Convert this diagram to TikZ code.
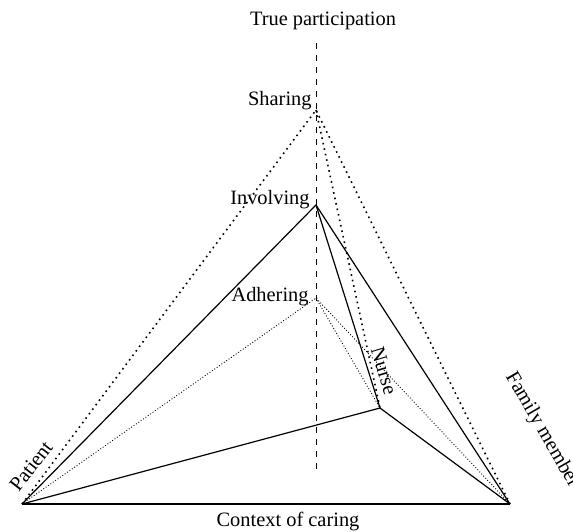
\documentclass[tikz,border=0pt]{standalone}
\usepackage{fontspec}
\setmainfont{Liberation Serif}
\usetikzlibrary{positioning}
\tikzstyle{every picture}+=[remember picture]

\begin{document}
\begin{tikzpicture} [
            x=0.5pt, y=-0.5pt, every node/.style={font=\fontsize{10.2}{12}\selectfont, inner sep=1pt},
            solidline/.style={line width=0.6pt},
            shareline/.style={line width=0.8pt, dotted},
            adhereline/.style={line width=0.45pt, densely dotted}
        ]
        \useasboundingbox (0,0) rectangle (573,531);
        % corners and levels
        \coordinate (patient) at (22,504);
        \coordinate (family) at (510,504);
        \coordinate (nurse) at (380,408);
        \coordinate (sharing) at (316,110);
        \coordinate (involving) at (316,205);
        \coordinate (adhering) at (316,298);
        \coordinate (axistop) at (316,43);
        \coordinate (axisbottom) at (316,470);
        \draw[dashed, line width=0.5pt] (axistop) -- (axisbottom);
        % sharing
        \draw[shareline] (patient) -- (sharing) -- (family);
        \draw[shareline] (sharing) -- (nurse);
        % involving
        \draw[solidline] (patient) -- (involving) -- (family);
        \draw[solidline] (involving) -- (nurse);
        \draw[solidline] (patient) -- (nurse) -- (family);
        \draw[solidline] (patient) -- (family);
        % adhering
        \draw[adhereline] (patient) -- (adhering) -- (family);
        \draw[adhereline] (adhering) -- (nurse);
        % labels
        \node (toplabel) at (323,21) {True participation};
        \node[anchor=east] (sharinglabel) at (314,101) {Sharing};
        \node[anchor=east] (involvinglabel) at (312,200) {Involving};
        \node[anchor=east] (adheringlabel) at (311,297) {Adhering};
        \node (bottomlabel) at (288,522) {Context of caring};
        \node[rotate=52] (patientlabel) at (31,466) {Patient};
        \node[rotate=-60] (familylabel) at (542,430) {Family member};
        \node[rotate=-73] (nurselabel) at (384,371) {Nurse};
    \end{tikzpicture}
\end{document}
